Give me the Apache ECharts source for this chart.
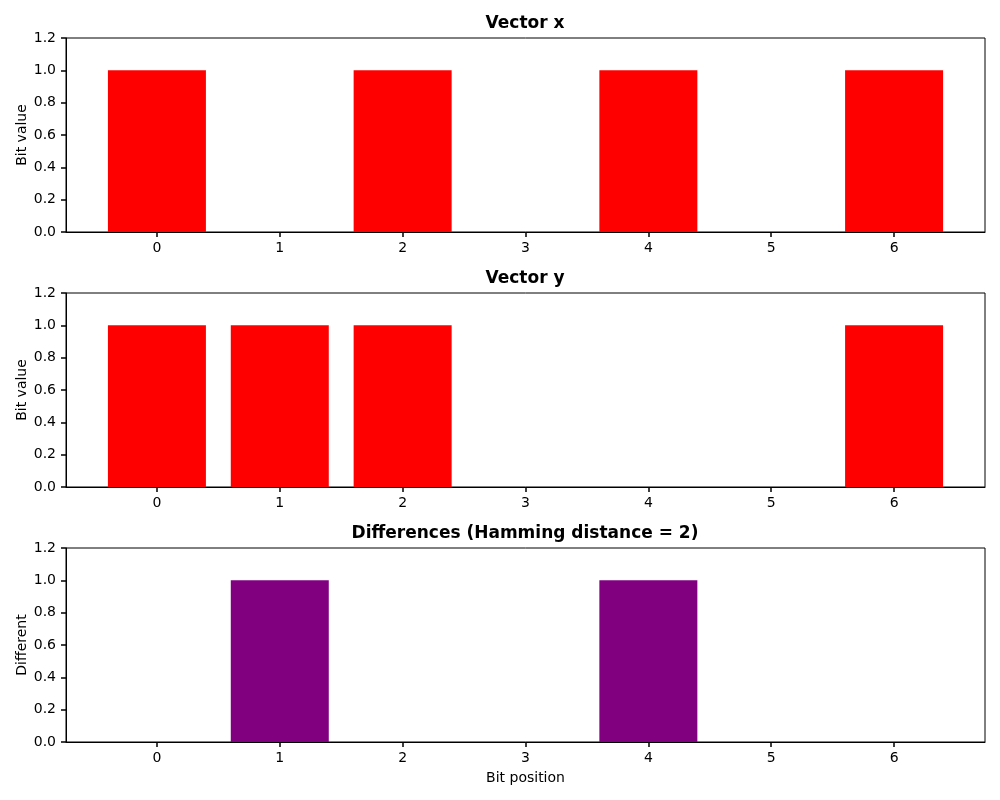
<!DOCTYPE html>
<html>
<head>
<meta charset="utf-8">
<script src="https://cdn.jsdelivr.net/npm/echarts@6/dist/echarts.min.js"></script>
<style>
  html, body { margin: 0; padding: 0; background: #fff; }
  #chart { width: 1000px; height: 800px; }
</style>
</head>
<body>
<div id="chart"></div>
<script>
// bit positions and the two vectors
const positions = [0, 1, 2, 3, 4, 5, 6];
const xBits = [1, 0, 1, 0, 1, 0, 1];
const yBits = [1, 1, 1, 0, 0, 0, 1];
const diffBits = [0, 1, 0, 0, 1, 0, 0];

const titles = ['Vector x', 'Vector y', 'Differences (Hamming distance = 2)'];
const yNames = ['Bit value', 'Bit value', 'Different'];
const colors = ['#ff0000', '#ff0000', '#800080'];
const seriesData = [xBits, yBits, diffBits];

const font = 'DejaVu Sans';
const tops = [38, 293, 548];
const plotH = 194;

var myChart = echarts.init(document.getElementById('chart'));

let option = {
    animation: false,
    textStyle: { fontFamily: font },
    title: [],
    grid: [],
    xAxis: [],
    yAxis: [],
    series: []
};

for (let i = 0; i < 3; i++) {
    option.title.push({
        text: titles[i],
        left: 525,
        textAlign: 'center',
        top: tops[i] - 23,
        padding: 0,
        textStyle: { fontFamily: font, fontSize: 17, fontWeight: 'bold', color: '#000' }
    });
    option.grid.push({
        left: 66, right: 15, top: tops[i], height: plotH,
        show: true, borderColor: '#000', borderWidth: 1, backgroundColor: 'transparent'
    });
    option.xAxis.push({
        type: 'value',
        gridIndex: i,
        min: -0.74,
        max: 6.74,
        name: i == 2 ? 'Bit position' : '',
        nameLocation: 'middle',
        nameGap: 29,
        nameTextStyle: { fontFamily: font, fontSize: 14, color: '#000' },
        splitLine: { show: false },
        axisLine: { show: true, onZero: false, lineStyle: { color: '#000' } },
        axisTick: { show: true, customValues: positions, length: 5, inside: false, lineStyle: { color: '#000', width: 1.5 } },
        axisLabel: { customValues: positions, fontFamily: font, fontSize: 14, color: '#000', margin: 9 }
    });
    option.yAxis.push({
        type: 'value',
        gridIndex: i,
        min: 0,
        max: 1.2,
        interval: 0.2,
        name: yNames[i],
        nameLocation: 'middle',
        nameGap: 37,
        nameMoveOverlap: false,
        nameTextStyle: { fontFamily: font, fontSize: 14, color: '#000' },
        splitLine: { show: false },
        axisLine: { show: true, onZero: false, lineStyle: { color: '#000' } },
        axisTick: { show: true, length: 5, inside: false, lineStyle: { color: '#000', width: 1.5 } },
        axisLabel: {
            fontFamily: font, fontSize: 14, color: '#000', margin: 10,
            formatter: (v) => v.toFixed(1)
        }
    });
    option.series.push({
        type: 'bar',
        xAxisIndex: i,
        yAxisIndex: i,
        barWidth: 98,
        itemStyle: { color: colors[i] },
        data: positions.map((p, k) => [p, seriesData[i][k]])
    });
}

myChart.setOption(option);
</script>
</body>
</html>
